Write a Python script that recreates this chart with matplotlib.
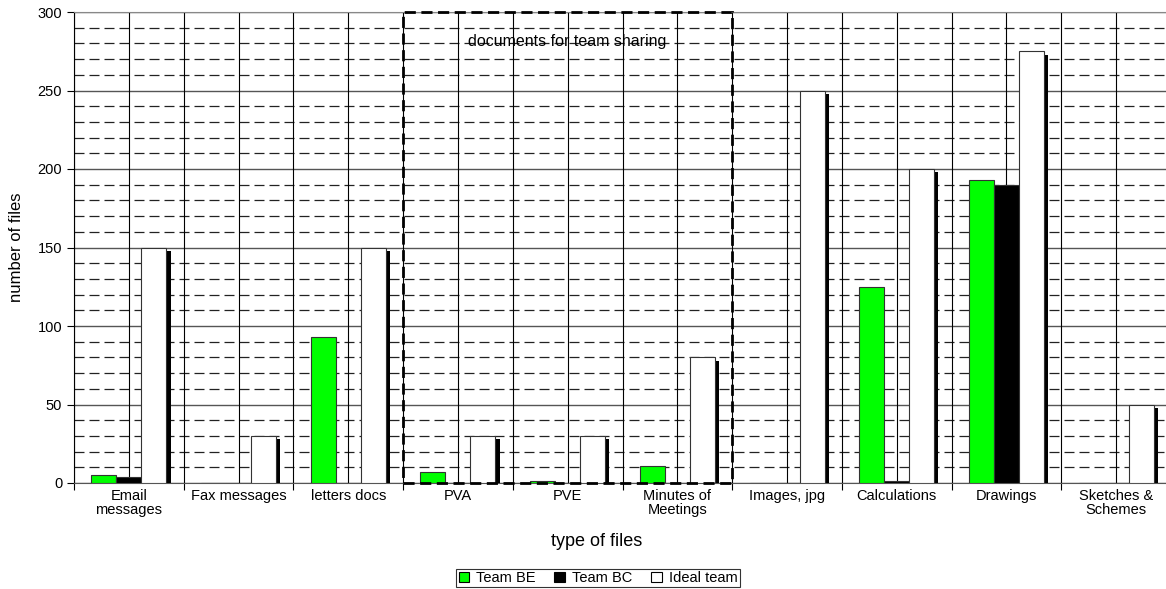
import matplotlib
matplotlib.use('Agg')
import matplotlib.pyplot as plt
import matplotlib.patheffects as pe
from matplotlib.patches import Rectangle
from matplotlib.ticker import MultipleLocator
import numpy as np

plt.rcParams['font.family'] = ['Liberation Sans', 'DejaVu Sans']

# File types and counts per team
categories = ['Email\nmessages', 'Fax messages', 'letters docs', 'PVA', 'PVE',
              'Minutes of\nMeetings', 'Images, jpg', 'Calculations', 'Drawings',
              'Sketches &\nSchemes']
team_be = [5, 0, 93, 7, 1, 11, 0, 125, 193, 0]
team_bc = [4, 0, 0, 0, 0, 0, 0, 1, 190, 0]
ideal_team = [150, 30, 150, 30, 30, 80, 250, 200, 275, 50]

fig = plt.figure(figsize=(11.66, 5.89), dpi=100)
# plot area runs slightly past the right edge of the figure
ax = fig.add_axes([74 / 1166, 106 / 589, 1097 / 1166, 471 / 589])

x = np.arange(len(categories))
w = 0.228
ax.bar(x - w, team_be, w, color='#00ff00', edgecolor='#333333', linewidth=0.8,
       label='Team BE', zorder=3)
ax.bar(x, team_bc, w, color='black', edgecolor='#333333', linewidth=0.8,
       label='Team BC', zorder=3)
ax.bar(x + w, ideal_team, w, color='white', edgecolor='#333333', linewidth=0.8,
       label='Ideal team', zorder=3,
       path_effects=[pe.SimplePatchShadow(offset=(3, -2.5), shadow_rgbFace='black',
                                          alpha=1.0), pe.Normal()])

ax.set_xlim(-0.5, len(categories) - 0.5)
ax.set_ylim(0, 300)

# grid: solid every 50, dashed every 10, vertical lines every half category
ax.yaxis.set_major_locator(MultipleLocator(50))
ax.yaxis.set_minor_locator(MultipleLocator(10))
ax.grid(axis='y', which='major', color='#555555', linewidth=1.0, linestyle='-')
ax.grid(axis='y', which='minor', color='#222222', linewidth=0.9, linestyle=(0, (8, 4)))
for xv in np.arange(-0.5, len(categories), 0.5):
    ax.axvline(xv, color='black', linewidth=0.8, zorder=1)
ax.set_axisbelow(True)

ax.set_xticks(x)
ax.set_xticklabels(categories, fontsize=10.5, linespacing=1.0)
ax.tick_params(axis='x', which='major', length=0, pad=4)
ax.set_xticks(np.arange(-0.5, len(categories), 1.0), minor=True)
ax.tick_params(axis='x', which='minor', length=5, width=0.8, direction='out')
ax.tick_params(axis='y', which='major', labelsize=10.5, length=5, width=0.8, direction='out')
ax.tick_params(axis='y', which='minor', length=0)

for side in ['top', 'right']:
    ax.spines[side].set_color('#888888')
ax.spines['bottom'].set_color('#555555')
ax.spines['left'].set_color('black')

# shared-documents box
ax.add_patch(Rectangle((2.5, 0), 3, 300, fill=False, edgecolor='black',
                       linewidth=2, linestyle=(0, (4, 2)), zorder=5, clip_on=False))
ax.text(4, 281.5, 'documents for team sharing', ha='center', va='center', fontsize=11.5)

ax.set_ylabel('number of files', fontsize=12, labelpad=10)
fig.text(597 / 1166, 1 - 541 / 589, 'type of files', ha='center', va='center', fontsize=13)

leg = fig.legend(loc='center', bbox_to_anchor=(598 / 1166, 1 - 578 / 589), ncol=3,
                 fontsize=10.5, frameon=True, fancybox=False, edgecolor='black',
                 handlelength=0.75, handleheight=0.75, handletextpad=0.45,
                 columnspacing=1.3, borderpad=0.15, borderaxespad=0)
leg.get_frame().set_linewidth(0.8)
for h in leg.legend_handles:
    h.set_path_effects([])
    h.set_edgecolor('black')

fig.savefig('out.png', dpi=100)
